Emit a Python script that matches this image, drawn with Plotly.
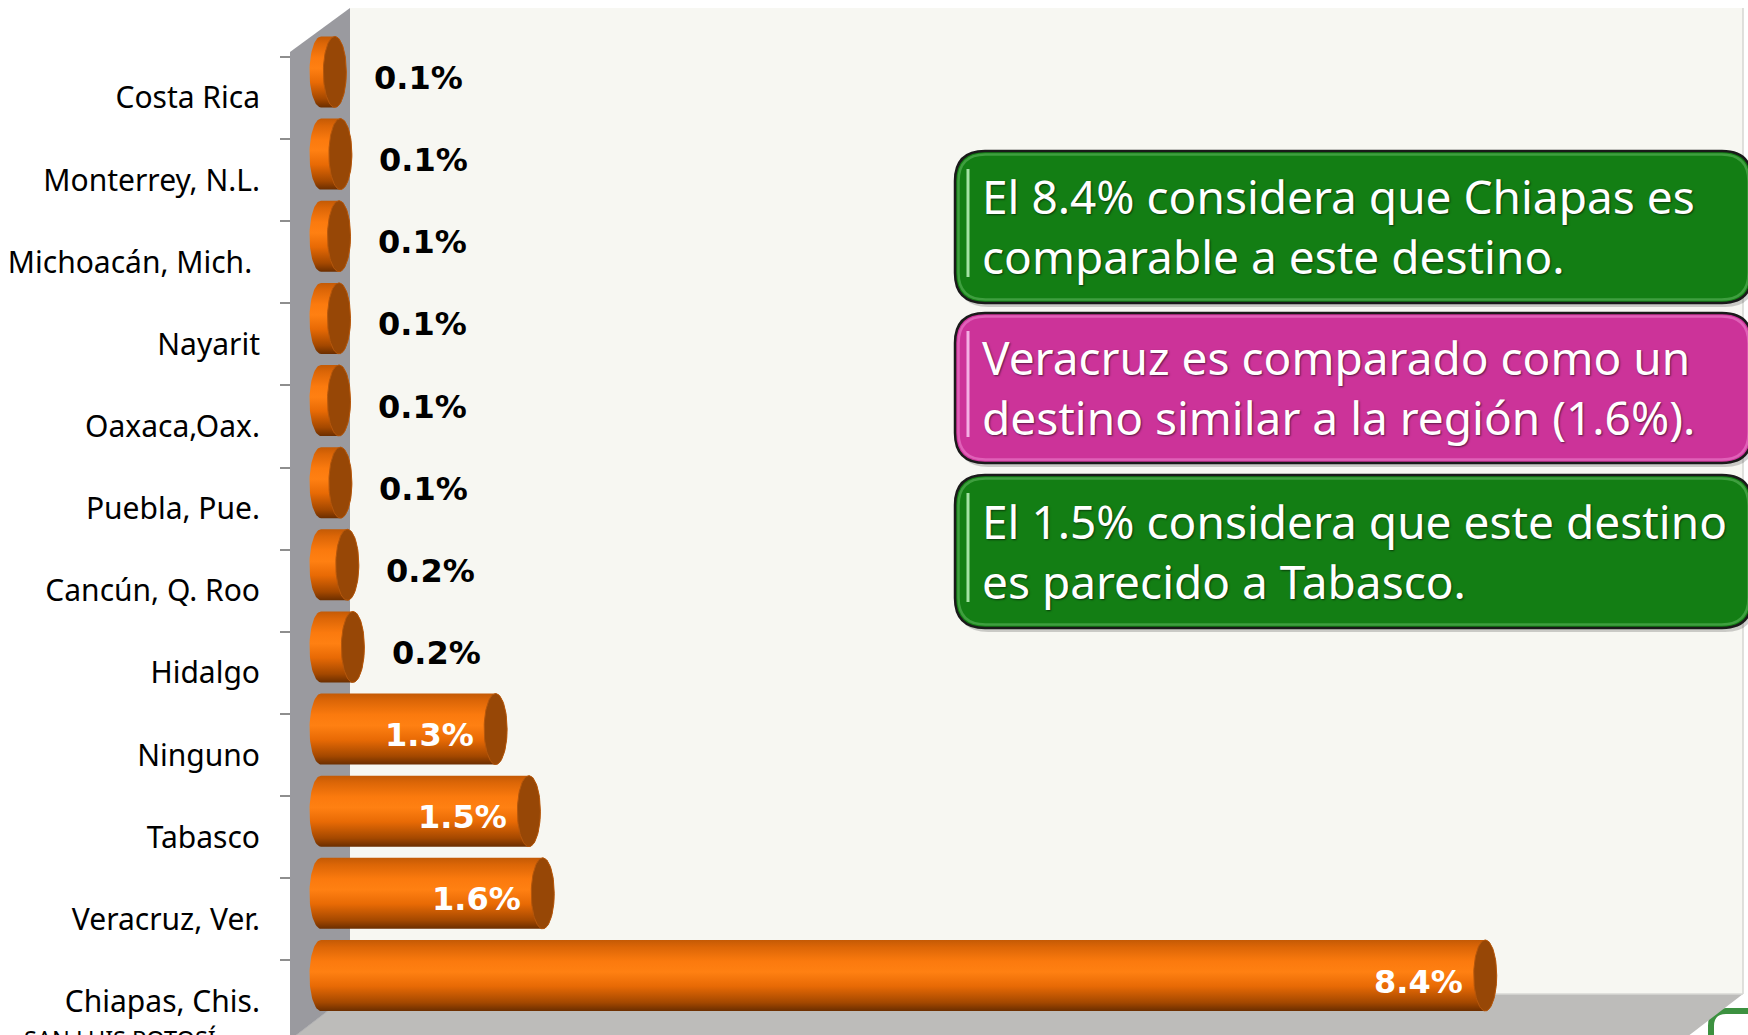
import numpy as np
import plotly.graph_objects as go

# ---------------- data (top-to-bottom as in the chart) ----------------
categories = ["Costa Rica", "Monterrey, N.L.", "Michoacán, Mich.\u00a0", "Nayarit",
              "Oaxaca,Oax.", "Puebla, Pue.", "Cancún, Q. Roo", "Hidalgo",
              "Ninguno", "Tabasco", "Veracruz, Ver.", "Chiapas, Chis."]
values = [0.1, 0.14, 0.13, 0.13, 0.13, 0.14, 0.19, 0.23, 1.26, 1.5, 1.6, 8.4]
value_labels = ["0.1%", "0.1%", "0.1%", "0.1%", "0.1%", "0.1%", "0.2%", "0.2%",
                "1.3%", "1.5%", "1.6%", "8.4%"]
box_texts = [
    ["El 8.4% considera que Chiapas es", "comparable a este destino."],
    ["Veracruz es comparado como un", "destino similar a la región (1.6%)."],
    ["El 1.5% considera que este destino", "es parecido a Tabasco."],
]
footer_text = "SAN LUIS POTOSÍ"

# bottom-to-top order for plotting
cats_b = categories[::-1]
vals_b = values[::-1]
labs_b = value_labels[::-1]

W, H = 1748, 1035
def X(px):
    return px / W
def Y(py):
    return 1 - py / H

# axis scales
PX_PER_UNIT = 138.6      # px per 1 %
X0_PX = 321              # pixel of value 0
CAT_PX = 82.14           # px per category
Y0_PX = 975.5            # pixel of category index 0
xr = [-X0_PX / PX_PER_UNIT, (W - X0_PX) / PX_PER_UNIT]
yr = [-(H - Y0_PX) / CAT_PX, Y0_PX / CAT_PX]
LABEL_SHIFT = 26 / CAT_PX

rx = 11.5 / PX_PER_UNIT
ry = 35.5 / CAT_PX

fig = go.Figure()

grad = [[0, '#6B2E00'], [0.12, '#A44800'], [0.35, '#E86A05'], [0.55, '#FF8012'],
        [0.7, '#FB7A0E'], [0.9, '#DC6607'], [1, '#C45A05']]

th_left = np.linspace(np.pi / 2, 3 * np.pi / 2, 40)
th_right = np.linspace(-np.pi / 2, np.pi / 2, 40)
th_full = np.linspace(0, 2 * np.pi, 80)

for i, v in enumerate(vals_b):
    bx = np.concatenate([rx * np.cos(th_left), v + rx * np.cos(th_right)])
    by = np.concatenate([i + ry * np.sin(th_left), i + ry * np.sin(th_right)])
    fig.add_trace(go.Scatter(
        x=np.append(bx, bx[0]), y=np.append(by, by[0]), mode='lines', fill='toself',
        line=dict(width=0, color='rgba(0,0,0,0)'),
        fillgradient=dict(type='vertical', colorscale=grad),
        hoverinfo='skip', showlegend=False))
    fig.add_trace(go.Scatter(
        x=v + rx * np.cos(th_full), y=i + ry * np.sin(th_full), mode='lines', fill='toself',
        fillcolor='#974706', line=dict(width=1, color='#B5570C'),
        hoverinfo='skip', showlegend=False))

# invisible trace carrying the category axis
fig.add_trace(go.Scatter(x=vals_b, y=cats_b, yaxis='y2', mode='markers',
                         marker=dict(opacity=0), hoverinfo='skip', showlegend=False))

# value labels
annotations = []
for i, (v, t) in enumerate(zip(vals_b, labs_b)):
    inside = v >= 1
    annotations.append(dict(
        x=v, y=i, xref='x', yref='y', text=t, showarrow=False,
        xanchor='right' if inside else 'left',
        xshift=-20 if inside else 37, yshift=-6,
        font=dict(family='DejaVu Sans', size=32, weight='bold',
                  color='white' if inside else 'black')))

# text boxes
box_specs = [
    dict(top=151, bottom=303, fill='#137E14', rim='#3F9F3F', gloss='#A4E2A4'),
    dict(top=313, bottom=463, fill='#CC3399', rim='#E060B8', gloss='#F4B0E4'),
    dict(top=475, bottom=628, fill='#137E14', rim='#3F9F3F', gloss='#A4E2A4'),
]

def rrect(x0, y0, x1, y1, r):
    pts = [
        f"M {X(x0 + r)},{Y(y0)}", f"L {X(x1 - r)},{Y(y0)}",
        f"Q {X(x1)},{Y(y0)} {X(x1)},{Y(y0 + r)}", f"L {X(x1)},{Y(y1 - r)}",
        f"Q {X(x1)},{Y(y1)} {X(x1 - r)},{Y(y1)}", f"L {X(x0 + r)},{Y(y1)}",
        f"Q {X(x0)},{Y(y1)} {X(x0)},{Y(y1 - r)}", f"L {X(x0)},{Y(y0 + r)}",
        f"Q {X(x0)},{Y(y0)} {X(x0 + r)},{Y(y0)}", "Z"]
    return " ".join(pts)

shapes = []
# back wall
shapes.append(dict(type='rect', xref='paper', yref='paper', x0=X(350), x1=X(1743),
                   y0=Y(994), y1=Y(8), fillcolor='#F7F7F2', line=dict(width=0), layer='below'))
shapes.append(dict(type='line', xref='paper', yref='paper', x0=X(1743), x1=X(1743),
                   y0=Y(994), y1=Y(8), line=dict(color='#D6D6D2', width=1.5), layer='below'))
# green outline in bottom-right corner
shapes.append(dict(type='path', xref='paper', yref='paper',
                   path=f"M {X(1711)},{Y(1045)} L {X(1711)},{Y(1026)} Q {X(1711)},{Y(1011)} {X(1726)},{Y(1011)} L {X(1760)},{Y(1011)}",
                   line=dict(color='#3C9140', width=6), layer='below'))
# floor
shapes.append(dict(type='path', xref='paper', yref='paper',
                   path=f"M {X(350)},{Y(994)} L {X(1743)},{Y(994)} L {X(1683)},{Y(1040)} L {X(290)},{Y(1040)} Z",
                   fillcolor='#BDBCBA', line=dict(width=0), layer='below'))
shapes.append(dict(type='line', xref='paper', yref='paper', x0=X(350), x1=X(1743),
                   y0=Y(994), y1=Y(994), line=dict(color='#D8D8D4', width=1.5), layer='below'))
# left wall
shapes.append(dict(type='path', xref='paper', yref='paper',
                   path=f"M {X(290)},{Y(52)} L {X(350)},{Y(8)} L {X(350)},{Y(994)} L {X(290)},{Y(1040)} Z",
                   fillcolor='#9A9A9F', line=dict(width=0), layer='below'))
shapes.append(dict(type='line', xref='paper', yref='paper', x0=X(350), x1=X(290),
                   y0=Y(994), y1=Y(1040), line=dict(color='#B0B0B2', width=1), layer='below'))

BX0, BX1 = 955, 1752
for b in box_specs:
    shapes.append(dict(type='path', xref='paper', yref='paper',
                       path=rrect(BX0 + 3, b['top'] + 4, BX1 + 3, b['bottom'] + 4, 30),
                       fillcolor='rgba(0,0,0,0.18)', line=dict(width=0), layer='above'))
    shapes.append(dict(type='path', xref='paper', yref='paper',
                       path=rrect(BX0, b['top'], BX1, b['bottom'], 30),
                       fillcolor=b['fill'], line=dict(color='#1A1A1A', width=2.5), layer='above'))
    shapes.append(dict(type='path', xref='paper', yref='paper',
                       path=rrect(BX0 + 3.5, b['top'] + 3.5, BX1 - 3.5, b['bottom'] - 3.5, 27),
                       fillcolor='rgba(0,0,0,0)', line=dict(color=b['rim'], width=2.5), layer='above'))
    shapes.append(dict(type='line', xref='paper', yref='paper', x0=X(968), x1=X(968),
                       y0=Y(b['top'] + 18), y1=Y(b['bottom'] - 26),
                       line=dict(color=b['gloss'], width=3), layer='above'))

for b, lines in zip(box_specs, box_texts):
    yc = (b['top'] + b['bottom']) / 2 - 1
    annotations.append(dict(
        x=X(980), y=Y(yc), xref='paper', yref='paper', text="<br>".join(lines),
        showarrow=False, xanchor='left', yanchor='middle', align='left',
        font=dict(family='Noto Sans', size=46, color='white',
                  shadow='1px 1px 2px rgba(0,0,0,0.55)')))

annotations.append(dict(x=X(22), y=Y(1021), xref='paper', yref='paper', text=footer_text,
                        showarrow=False, xanchor='left', yanchor='top',
                        font=dict(family='Noto Sans', size=23.5, color='black')))

fig.update_layout(
    width=W, height=H, margin=dict(l=0, r=0, t=0, b=0),
    paper_bgcolor='white', plot_bgcolor='rgba(0,0,0,0)',
    xaxis=dict(range=xr, domain=[0, 1], visible=False, fixedrange=True),
    yaxis=dict(range=yr, domain=[0, 1], visible=False, fixedrange=True),
    yaxis2=dict(type='category', categoryorder='array', categoryarray=cats_b,
                overlaying='y', anchor='free', position=X(290), side='left',
                range=[yr[0] + LABEL_SHIFT, yr[1] + LABEL_SHIFT],
                ticks='outside', tickson='boundaries', ticklen=10, tickwidth=1.5,
                tickcolor='#8E8E8E', showline=False, showgrid=False, zeroline=False,
                ticklabelstandoff=30, fixedrange=True,
                tickfont=dict(family='Noto Sans', size=30, color='black')),
    shapes=shapes, annotations=annotations, showlegend=False,
)

fig.write_html("out.html", config={'displayModeBar': False, 'staticPlot': False},
               post_script="document.body.style.margin='0px';")
